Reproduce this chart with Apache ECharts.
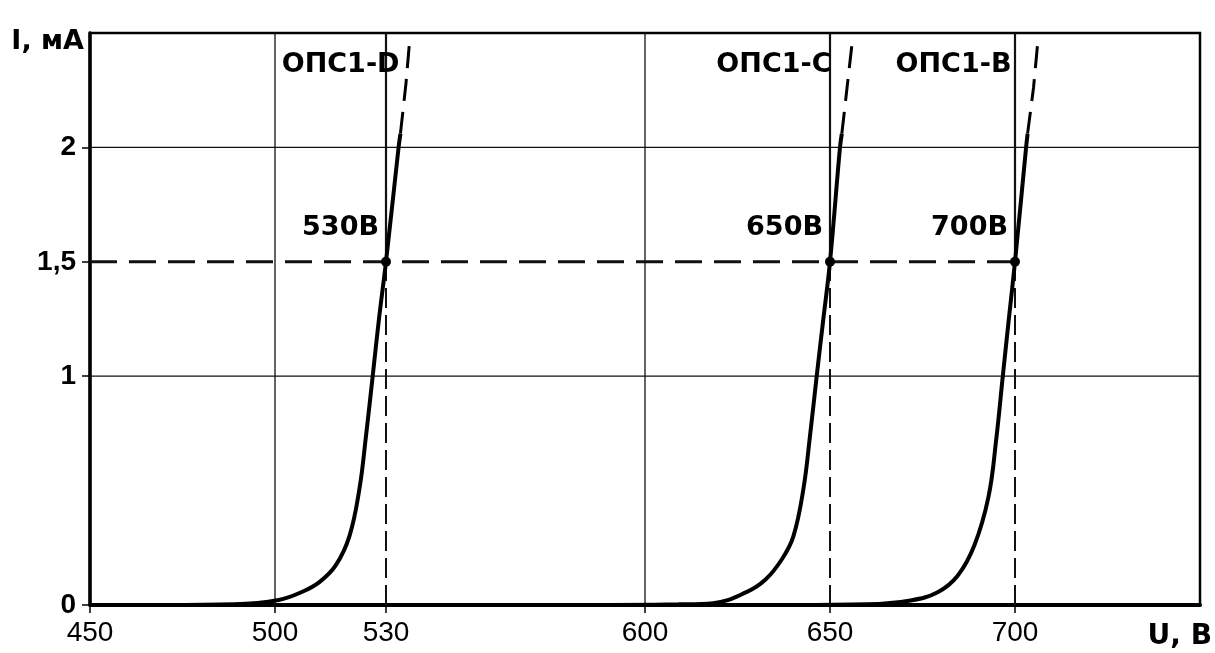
<!DOCTYPE html>
<html>
<head>
<meta charset="utf-8">
<title>ВАХ ОПС1</title>
<script src="https://cdn.jsdelivr.net/npm/echarts@6/dist/echarts.min.js"></script>
<style>
html, body { margin: 0; padding: 0; background: #fff; }
#chart { width: 1215px; height: 653px; }
</style>
</head>
<body>
<div id="chart"></div>
<script>
// axis ticks
var ticksU = [450, 500, 530, 600, 650, 700];
var ticksI = [0, 1, 1.5, 2];
// thin grid lines
var gridU = [500, 600];
var gridI = [1, 2];
// classification voltage at 1,5 mA
var levelI = 1.5;
var breakdownU = [530, 650, 700];
var curveNames = ['ОПС1-D', 'ОПС1-C', 'ОПС1-B'];
var voltLabels = ['530В', '650В', '700В'];

// ОПС1-D
var uD = [470, 489, 501, 507.4, 512, 516.4, 520.1, 522.8, 524.6, 526.4, 528.1, 530, 533.4, 533.9];
var iD = [0, 0.003, 0.022, 0.058, 0.10, 0.173, 0.30, 0.506, 0.74, 1.0, 1.25, 1.5, 2.0, 2.06];
var uDext = [533.9, 535.4, 536.3];
var iDext = [2.06, 2.28, 2.45];
// ОПС1-C
var uC = [590, 609, 618.4, 627.4, 632.5, 637.0, 640.1, 642.8, 644.6, 646.4, 648.2, 650, 652.7, 653.2];
var iC = [0, 0.003, 0.008, 0.056, 0.11, 0.20, 0.30, 0.506, 0.74, 1.0, 1.25, 1.5, 2.0, 2.06];
var uCext = [653.2, 654.6, 656.0];
var iCext = [2.06, 2.26, 2.46];
// ОПС1-B
var uB = [640, 660, 671.8, 679.1, 684.5, 689.0, 692.8, 694.9, 696.7, 698.4, 700, 703.0, 703.4];
var iB = [0, 0.003, 0.02, 0.056, 0.128, 0.26, 0.47, 0.72, 1.0, 1.26, 1.5, 2.0, 2.06];
var uBext = [703.4, 705.0, 706.1];
var iBext = [2.06, 2.26, 2.45];

var U_MIN = 450, U_MAX = 750, I_MIN = 0, I_MAX = 2.5;
var FONT = "'Liberation Sans', Arial, sans-serif";
var FONT_WIDE = "'DejaVu Sans', sans-serif";

function pairs(u, i) {
  return u.map(function (v, k) { return [v, i[k]]; });
}

function seg(points, width, type, z) {
  return {
    type: 'line',
    data: points,
    symbol: 'none',
    silent: true,
    z: z || 1,
    lineStyle: { color: '#111', width: width, type: type || 'solid' },
    animation: false
  };
}

var series = [];

// grid lines
gridU.forEach(function (u) {
  series.push(seg([[u, I_MIN], [u, I_MAX]], 1.3));
});
gridI.forEach(function (i) {
  series.push(seg([[U_MIN, i], [U_MAX, i]], 1.3));
});
// dashed 1,5 mA level
series.push(seg([[U_MIN, levelI], [Math.max.apply(null, breakdownU), levelI]], 3, [27, 12], 2));
// verticals at the classification voltages
breakdownU.forEach(function (u) {
  series.push(seg([[u, levelI], [u, I_MAX]], 2.2));
  series.push(seg([[u, I_MIN], [u, levelI]], 2, [20, 7]));
});

// curves
[[uD, iD, uDext, iDext], [uC, iC, uCext, iCext], [uB, iB, uBext, iBext]].forEach(function (c) {
  series.push({
    type: 'line',
    data: pairs(c[0], c[1]),
    symbol: 'none',
    smooth: 0.4,
    z: 3,
    lineStyle: { color: '#000', width: 4 },
    animation: false
  });
  series.push({
    type: 'line',
    data: pairs(c[2], c[3]),
    symbol: 'none',
    z: 3,
    lineStyle: { color: '#000', width: 3, type: [22, 11] },
    animation: false
  });
});

var labelText = {
  color: '#000',
  opacity: 1,
  textBorderWidth: 0,
  fontFamily: FONT_WIDE,
  fontWeight: 'bold',
  fontSize: 27
};

// points + voltage labels
series.push({
  type: 'scatter',
  data: breakdownU.map(function (u) { return [u, levelI]; }),
  symbol: 'circle',
  symbolSize: 10,
  z: 5,
  itemStyle: { color: '#000', opacity: 1 },
  label: Object.assign({
    show: true,
    position: 'left',
    distance: 0,
    offset: [-2, -34],
    formatter: function (p) { return voltLabels[p.dataIndex]; }
  }, labelText),
  animation: false
});

// curve names at the top
var nameDx = [14, 2, -3];
series.push({
  type: 'scatter',
  data: breakdownU.map(function (u, k) {
    return { value: [u, I_MAX], label: { offset: [nameDx[k], 32] } };
  }),
  symbol: 'circle',
  symbolSize: 1,
  itemStyle: { color: 'transparent' },
  z: 5,
  label: Object.assign({
    show: true,
    position: 'left',
    distance: 0,
    formatter: function (p) { return curveNames[p.dataIndex]; }
  }, labelText),
  animation: false
});

var chart = echarts.init(document.getElementById('chart'));
chart.setOption({
  backgroundColor: '#fff',
  animation: false,
  grid: {
    left: 90, right: 15, top: 33, bottom: 48,
    show: true,
    borderColor: '#000',
    borderWidth: 2.5
  },
  xAxis: {
    type: 'value',
    min: U_MIN,
    max: U_MAX,
    name: 'U, В',
    nameLocation: 'end',
    nameGap: 12,
    nameTextStyle: {
      color: '#000', fontFamily: FONT_WIDE, fontWeight: 'bold', fontSize: 28,
      align: 'right', verticalAlign: 'top', padding: [18, 0, 0, 0]
    },
    axisLine: { lineStyle: { color: '#000', width: 4 } },
    axisTick: { show: true, customValues: ticksU, length: 8, lineStyle: { color: '#000', width: 1.5 } },
    axisLabel: {
      customValues: ticksU,
      margin: 14,
      color: '#000',
      fontFamily: FONT,
      fontSize: 28
    },
    splitLine: { show: false }
  },
  yAxis: {
    type: 'value',
    min: I_MIN,
    max: I_MAX,
    name: 'I, мА',
    nameLocation: 'end',
    nameGap: 0,
    nameTextStyle: {
      color: '#000', fontFamily: FONT_WIDE, fontWeight: 'bold', fontSize: 27,
      align: 'right', verticalAlign: 'bottom', padding: [0, 6, -22, 0]
    },
    axisLine: { lineStyle: { color: '#000', width: 3.5 } },
    axisTick: { show: true, customValues: ticksI, length: 8, lineStyle: { color: '#000', width: 1.5 } },
    axisLabel: {
      customValues: ticksI,
      margin: 14,
      color: '#000',
      fontFamily: FONT,
      fontWeight: 'bold',
      fontSize: 28,
      formatter: function (v) { return String(v).replace('.', ','); }
    },
    splitLine: { show: false }
  },
  series: series
});
</script>
</body>
</html>
